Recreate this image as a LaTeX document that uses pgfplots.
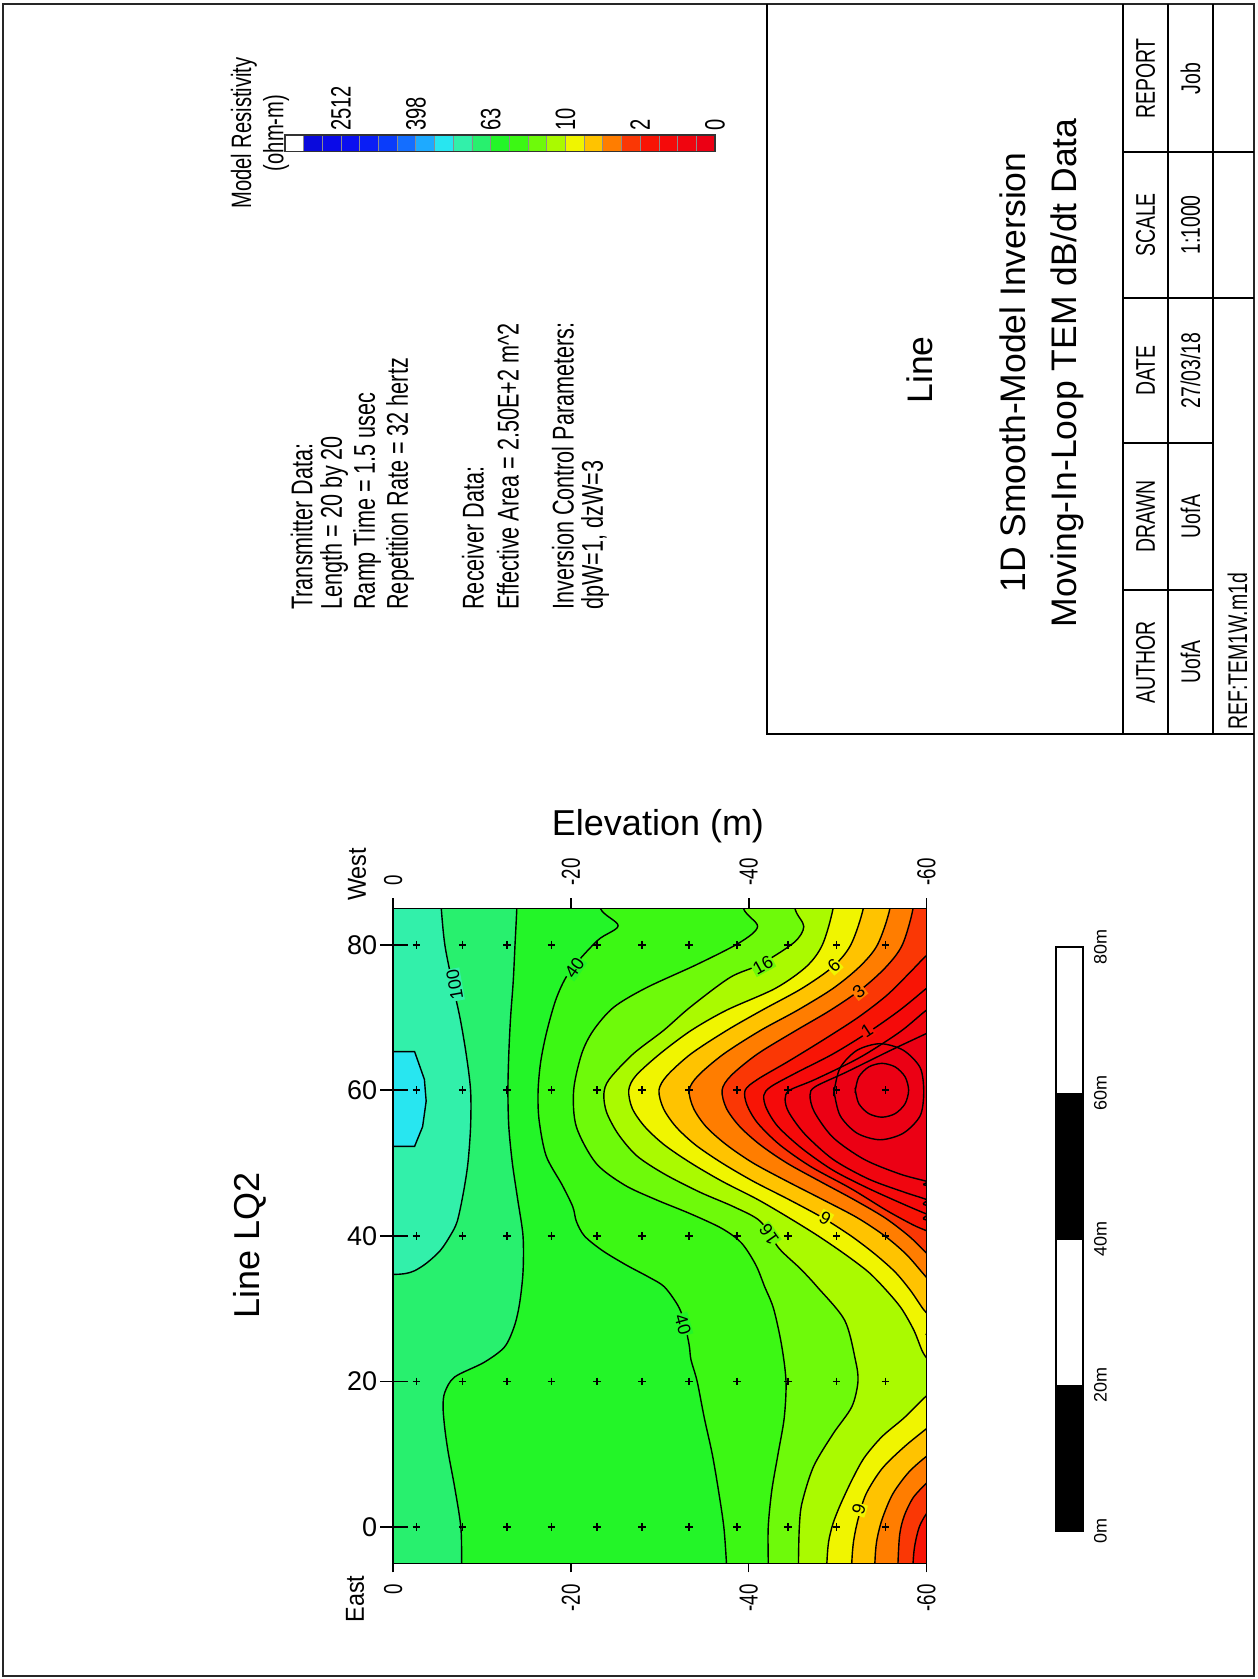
\documentclass[border=0pt]{standalone}
\usepackage{fontspec}
\setmainfont{Liberation Sans}
\newfontfamily\condA[FakeStretch=0.72]{Liberation Sans}
\newfontfamily\condB[FakeStretch=0.9]{Liberation Sans}
\usepackage{pgfplots}
\pgfplotsset{compat=1.18}
\definecolor{c0}{RGB}{10,10,220}
\definecolor{c1}{RGB}{10,10,232}
\definecolor{c2}{RGB}{10,15,240}
\definecolor{c3}{RGB}{10,30,245}
\definecolor{c4}{RGB}{10,60,250}
\definecolor{c5}{RGB}{20,110,255}
\definecolor{c6}{RGB}{30,170,255}
\definecolor{c7}{RGB}{40,230,240}
\definecolor{c8}{RGB}{50,240,170}
\definecolor{c9}{RGB}{40,240,110}
\definecolor{c10}{RGB}{35,245,40}
\definecolor{c11}{RGB}{60,248,20}
\definecolor{c12}{RGB}{110,250,10}
\definecolor{c13}{RGB}{170,250,0}
\definecolor{c14}{RGB}{240,245,0}
\definecolor{c15}{RGB}{255,195,0}
\definecolor{c16}{RGB}{255,125,0}
\definecolor{c17}{RGB}{250,55,5}
\definecolor{c18}{RGB}{248,20,5}
\definecolor{c19}{RGB}{245,10,10}
\definecolor{c20}{RGB}{240,5,15}
\definecolor{c21}{RGB}{235,0,20}
\pgfplotsset{
  geo/.style={at={(196.65pt,-781.65pt)}, anchor=south west, width=266.55pt, height=327.5pt,
    scale only axis, xmin=-60, xmax=0, ymin=-5, ymax=85, x dir=reverse,
    axis line style={line width=0.8pt}},
  cont/.style={smooth, draw=black, line width=0.7pt},
  cell/.style={draw=black!45, line width=0.4pt},
}
\tikzset{
  tb/.style={rotate=90, anchor=west, font=\condA\fontsize{15}{16}\selectfont, inner sep=0pt},
  cl/.style={rotate=90, font=\condA\fontsize{13.5}{14}\selectfont, inner sep=0pt},
  big/.style={rotate=90, font=\fontsize{17.75}{20}\selectfont, inner sep=0pt},
  lab/.style={font=\fontsize{9}{9}\selectfont, inner sep=0.6pt},
}
\begin{document}
\begin{tikzpicture}[x=0.5pt,y=-0.5pt]
\useasboundingbox (0,0) rectangle (1257,1679);
% page frame and title block
\draw[line width=1.3pt, black!85] (3,4) rectangle (1254,1676);
\draw[line width=1.1pt] (767,4) -- (767,734) -- (1254,734);
\draw[line width=0.9pt] (1123,4)--(1123,734) (1168,4)--(1168,734) (1213,4)--(1213,734)
  (1123,152)--(1254,152) (1123,298)--(1254,298) (1123,443)--(1213,443) (1123,590)--(1213,590);
\node[cl] at (1145.5,78.5) {REPORT};
\node[cl] at (1190.5,78.5) {Job};
\node[cl] at (1145.5,225) {SCALE};
\node[cl] at (1190.5,225) {1:1000};
\node[cl] at (1145.5,370.5) {DATE};
\node[cl] at (1190.5,370.5) {27/03/18};
\node[cl] at (1145.5,516.5) {DRAWN};
\node[cl] at (1190.5,516.5) {UofA};
\node[cl] at (1145.5,662) {AUTHOR};
\node[cl] at (1190.5,662) {UofA};
\node[cl, anchor=west] at (1237.5,730) {REF:TEM1W.m1d};
\node[big] at (920,370) {Line};
\node[big] at (1013,372.5) {1D Smooth-Model Inversion};
\node[big] at (1067,373) {Moving-In-Loop TEM dB/dt Data};
% info text
\node[tb] at (301.7,610) {Transmitter Data:};
\node[tb] at (334,610) {Length = 20 by 20};
\node[tb] at (367,610) {Ramp Time = 1.5 usec};
\node[tb] at (400,610) {Repetition Rate = 32 hertz};
\node[tb] at (473,610) {Receiver Data:};
\node[tb] at (508,610) {Effective Area = 2.50E+2 m\textasciicircum 2};
\node[tb] at (563,610) {Inversion Control Parameters:};
\node[tb] at (595,610) {dpW=1, dzW=3};
% colour bar title
\node[rotate=90, font=\condA\fontsize{14}{15}\selectfont, inner sep=0pt] at (244,133) {Model Resistivity};
\node[rotate=90, font=\condA\fontsize{14}{15}\selectfont, inner sep=0pt] at (276,133) {(ohm-m)};
% section labels
\node[rotate=90, font=\fontsize{18}{20}\selectfont, inner sep=0pt] at (250,1245) {Line LQ2};
\node[font=\fontsize{18}{20}\selectfont, inner sep=0pt] at (658,826) {Elevation (m)};
\node[rotate=90, font=\condB\fontsize{13}{13}\selectfont, inner sep=0pt] at (357,874.5) {West};
\node[rotate=90, font=\condB\fontsize{13}{13}\selectfont, inner sep=0pt] at (355,1599) {East};

\begin{scope}[x=1pt,y=1pt]
% colour bar
\begin{axis}[at={(142.5pt,-75.85pt)}, anchor=south west, width=215pt, height=8.35pt,
  scale only axis, xmin=0, xmax=23, ymin=0, ymax=1, axis on top,
  axis line style={black!80, line width=0.6pt}, ytick=\empty,
  xtick={3,7,11,15,19,23}, xticklabels={2512,398,63,10,2,0},
  xtick pos=right, xticklabel pos=right, major tick length=0pt,
  xticklabel style={rotate=90, anchor=west, font=\condA\fontsize{14}{14}\selectfont},
  xticklabel shift=-1.5pt]
\addplot[cell, fill=white] coordinates {(0,0) (1,0) (1,1) (0,1) (0,0)};
\addplot[cell, fill=c0] coordinates {(1,0) (2,0) (2,1) (1,1) (1,0)};
\addplot[cell, fill=c1] coordinates {(2,0) (3,0) (3,1) (2,1) (2,0)};
\addplot[cell, fill=c2] coordinates {(3,0) (4,0) (4,1) (3,1) (3,0)};
\addplot[cell, fill=c3] coordinates {(4,0) (5,0) (5,1) (4,1) (4,0)};
\addplot[cell, fill=c4] coordinates {(5,0) (6,0) (6,1) (5,1) (5,0)};
\addplot[cell, fill=c5] coordinates {(6,0) (7,0) (7,1) (6,1) (6,0)};
\addplot[cell, fill=c6] coordinates {(7,0) (8,0) (8,1) (7,1) (7,0)};
\addplot[cell, fill=c7] coordinates {(8,0) (9,0) (9,1) (8,1) (8,0)};
\addplot[cell, fill=c8] coordinates {(9,0) (10,0) (10,1) (9,1) (9,0)};
\addplot[cell, fill=c9] coordinates {(10,0) (11,0) (11,1) (10,1) (10,0)};
\addplot[cell, fill=c10] coordinates {(11,0) (12,0) (12,1) (11,1) (11,0)};
\addplot[cell, fill=c11] coordinates {(12,0) (13,0) (13,1) (12,1) (12,0)};
\addplot[cell, fill=c12] coordinates {(13,0) (14,0) (14,1) (13,1) (13,0)};
\addplot[cell, fill=c13] coordinates {(14,0) (15,0) (15,1) (14,1) (14,0)};
\addplot[cell, fill=c14] coordinates {(15,0) (16,0) (16,1) (15,1) (15,0)};
\addplot[cell, fill=c15] coordinates {(16,0) (17,0) (17,1) (16,1) (16,0)};
\addplot[cell, fill=c16] coordinates {(17,0) (18,0) (18,1) (17,1) (17,0)};
\addplot[cell, fill=c17] coordinates {(18,0) (19,0) (19,1) (18,1) (18,0)};
\addplot[cell, fill=c18] coordinates {(19,0) (20,0) (20,1) (19,1) (19,0)};
\addplot[cell, fill=c19] coordinates {(20,0) (21,0) (21,1) (20,1) (20,0)};
\addplot[cell, fill=c20] coordinates {(21,0) (22,0) (22,1) (21,1) (21,0)};
\addplot[cell, fill=c21] coordinates {(22,0) (23,0) (23,1) (22,1) (22,0)};
\end{axis}

% scale bar
\begin{axis}[at={(528pt,-765.5pt)}, anchor=south west, width=13.5pt, height=292pt,
  scale only axis, xmin=0, xmax=1, ymin=0, ymax=80, axis on top,
  axis line style={black, line width=0.8pt}, xtick=\empty,
  ytick={0,20,40,60,80}, yticklabels={0m,20m,40m,60m,80m},
  ytick pos=right, yticklabel pos=right, major tick length=0pt,
  yticklabel style={rotate=90, anchor=north, font=\fontsize{9}{9}\selectfont},
  yticklabel shift=2pt]
\addplot[fill=black, draw=black] coordinates {(0,0) (1,0) (1,20) (0,20) (0,0)};
\addplot[fill=black, draw=black] coordinates {(0,40) (1,40) (1,60) (0,60) (0,40)};
\end{axis}

% main section
\begin{axis}[geo, axis on top, axis background/.style={fill=c9},
  xtick={0,-20,-40,-60}, xticklabels={0,-20,-40,-60}, xtick pos=left, xticklabel pos=left,
  ytick={0,20,40,60,80}, yticklabels={0,20,40,60,80}, ytick pos=left,
  tick align=outside, major tick length=6.5pt,
  tick style={black, line width=0.8pt},
  xtick style={/pgfplots/major tick length=4.5pt},
  xticklabel style={font=\condA\fontsize{13}{13}\selectfont, rotate=90, anchor=east},
  yticklabel style={font=\fontsize{13.5}{14}\selectfont},
  xticklabel shift=0.5pt, yticklabel shift=-2pt]
% rho 100-158 near surface
\addplot[cont, fill=c8] coordinates {(-5.1,95) (-5.2,90) (-5.4,85) (-5.8,80) (-6.6,75) (-7.5,70) (-8.2,65) (-8.7,60) (-8.7,55) (-8.4,50) (-7.9,46) (-7.2,42) (-6.4,40) (-5.3,38) (-3.8,36.3) (-2.4,35.2) (-1.3,34.8) (0,34.7) (3,34.7) (6,34.7) (10,34.7) (10,100)};
% rho 158-251 patch
\addplot[sharp plot, draw=black, line width=0.7pt, fill=c7] coordinates {(3,65.3) (-2.4,65.3) (-3.5,61.5) (-3.7,58.5) (-3.3,55) (-2.4,52.3) (3,52.3)};
% 63
\addplot[cont, fill=c10] coordinates {(-14.0,95) (-14.0,90) (-13.9,85) (-13.7,80) (-13.5,75) (-13.2,70) (-13.0,65) (-12.9,60) (-13.0,55) (-13.4,50) (-14.0,45) (-14.6,40) (-14.6,35) (-14.2,30.6) (-13.6,27.5) (-12.5,24.7) (-10.2,22.6) (-6.9,20.6) (-5.8,18.5) (-5.6,16.5) (-5.8,13.5) (-6.2,10.1) (-6.9,5.5) (-7.6,0) (-7.7,-5) (-7.8,-10) (-7.9,-15) (-90,-15) (-90,95)};
% 40
\addplot[cont, fill=c11] coordinates {(-22.3,95) (-22.7,90) (-23.3,85) (-25.3,82.6) (-23.0,80.6) (-19.9,76.4) (-18.4,72.8) (-17.3,68.2) (-16.6,64) (-16.3,60) (-16.4,56) (-17.2,51) (-19.0,47) (-20.2,44) (-20.6,42) (-21.5,40) (-23.5,38) (-26.2,36) (-28.8,34.3) (-30.5,33) (-32.0,30.5) (-32.7,28.4) (-33.3,25) (-33.5,23) (-34.2,20) (-35.0,15) (-35.9,10) (-36.6,5) (-37.2,0) (-37.5,-5) (-37.7,-10) (-37.9,-15) (-90,-15) (-90,95)};
% 25
\addplot[cont, fill=c12] coordinates {(-38.3,95) (-38.8,90) (-39.4,85) (-41.0,82.5) (-39.0,80.3) (-34.2,77.3) (-28.5,74.1) (-24.8,71.4) (-22.5,68.2) (-21.2,65) (-20.3,60) (-20.6,55) (-22.8,50) (-26.0,47) (-29.5,45) (-33.5,43) (-37.0,41) (-39.2,39) (-40.8,36) (-41.8,33) (-42.8,30) (-43.7,25) (-44.2,20) (-44.0,15) (-43.3,10) (-42.6,5) (-42.2,0) (-42.2,-5) (-42.2,-10) (-42.2,-15) (-90,-15) (-90,95)};
% 16
\addplot[cont, fill=c13] coordinates {(-44.3,95) (-44.8,90) (-45.2,85) (-46.2,82.5) (-45.1,80.3) (-41.3,77.3) (-37.9,75.5) (-33.4,71.4) (-30.4,68.2) (-27.0,65) (-24.3,61.5) (-23.7,59.5) (-24.0,57) (-25.3,54) (-27.4,51) (-30.5,48.5) (-34.5,46) (-38.3,44) (-41.3,42) (-43.4,38.3) (-45.8,35.5) (-47.7,33) (-50.8,28.4) (-52.0,23) (-52.3,20) (-51.6,16.5) (-49.5,12.8) (-47.3,8.3) (-46.0,3.3) (-45.7,0) (-45.6,-5) (-45.6,-10) (-45.6,-15) (-90,-15) (-90,95)};
% 10
\addplot[cont, fill=c14] coordinates {(-50.2,95) (-49.9,90) (-49.5,85) (-48.3,80) (-46.5,77) (-43.0,74) (-37.5,71) (-33.5,68.2) (-30.0,65) (-27.3,62) (-26.5,60) (-26.9,57.5) (-28.3,55) (-30.5,52.5) (-33.5,50) (-37.0,47.5) (-41.0,45) (-44.5,42.5) (-47.8,40) (-50.8,37.5) (-53.5,35) (-55.5,32.5) (-57.2,30) (-58.6,27) (-59.6,24) (-60.5,22.5) (-61.5,21) (-62.5,19.5) (-90,19.5) (-90,95)};
\addplot[cont, fill=c14] coordinates {(-64,21.5) (-62,20) (-60,18) (-57.5,15) (-55,12.4) (-53,9.5) (-51.6,6.4) (-50.3,3) (-49.5,0.5) (-49.0,-2) (-48.8,-5) (-48.7,-10) (-48.6,-15) (-90,-15) (-90,21.5)};
% 6.3
\addplot[cont, fill=c15] coordinates {(-53.6,95) (-53.3,90) (-52.9,85) (-51.5,80) (-49.5,77) (-46.0,74) (-41.5,71) (-37.5,68.2) (-33.5,65) (-30.8,62) (-29.9,60) (-30.4,57.5) (-31.8,55) (-34.0,52.5) (-37.0,50) (-40.5,47.5) (-44.5,45) (-48.3,42.5) (-51.5,40) (-54.2,37.5) (-56.5,35) (-58.2,32.5) (-59.6,30) (-60.3,29) (-61.0,27.5) (-62.0,26) (-90,26) (-90,95)};
\addplot[cont, fill=c15] coordinates {(-64,17) (-62,15.5) (-60,13.5) (-57.5,11) (-55,8) (-53.2,4.5) (-52.3,1) (-51.8,-2) (-51.6,-5) (-51.5,-10) (-51.5,-15) (-90,-15) (-90,17)};
% 4
\addplot[cont, fill=c16] coordinates {(-56.5,95) (-56.2,90) (-55.9,85) (-54.5,80) (-52.5,77) (-49.5,74) (-45.5,71) (-41.3,68.2) (-37.2,65) (-34.3,62) (-33.3,60) (-33.8,57.5) (-35.2,55) (-37.5,52.5) (-40.5,50) (-44.3,47.5) (-48.3,45) (-52.2,42.5) (-55.3,40) (-57.7,37.5) (-59.5,35) (-60.2,34) (-61.2,32.5) (-62.2,31) (-90,31) (-90,95)};
\addplot[cont, fill=c16] coordinates {(-63,12) (-61.5,11) (-60,9.7) (-58,7.5) (-56.2,4.5) (-55,1) (-54.4,-2) (-54.2,-5) (-54.1,-10) (-54.1,-15) (-90,-15) (-90,12)};
% 2.5
\addplot[cont, fill=c17] coordinates {(-59.0,95) (-58.8,90) (-58.5,85) (-57.3,80) (-55.5,77) (-52.8,74) (-49.2,71) (-45.3,68.2) (-41.0,65) (-38.0,62) (-37.0,60) (-37.5,57.5) (-39.0,55) (-41.3,52.5) (-44.3,50) (-48.0,47.5) (-51.8,45) (-55.3,42.5) (-58.0,40) (-59.7,38) (-60.5,37) (-61.6,35.5) (-62.6,34) (-90,34) (-90,95)};
\addplot[cont, fill=c17] coordinates {(-62,8) (-61,7) (-60,6) (-58.5,4) (-57.5,1.5) (-57.0,-1) (-56.8,-5) (-56.7,-10) (-56.7,-15) (-90,-15) (-90,8)};
% 1.6
\addplot[cont, fill=c18] coordinates {(-63,81) (-61.5,79.8) (-60,78.5) (-58,76) (-55.5,73) (-52.3,70) (-48.5,67) (-44.5,64) (-41.0,61.5) (-39.6,60) (-39.8,58) (-41.0,55.5) (-43.5,52.5) (-47.0,49.5) (-51.5,46.5) (-55.5,43.5) (-58.5,41.5) (-60,40.7) (-61.5,39.8) (-63,39) (-90,39) (-90,81)};
\addplot[cont, fill=c18] coordinates {(-62,4.5) (-61,3) (-60,1.8) (-59.2,0) (-58.7,-2.5) (-58.5,-5) (-58.4,-10) (-90,-10) (-90,4.5)};
% 1
\addplot[cont, fill=c19] coordinates {(-62,76) (-60,74) (-57,71) (-53.5,68) (-49.5,65) (-45.5,62.5) (-42.5,60.5) (-41.7,59.3) (-42.0,57.5) (-43.3,55) (-46.0,52) (-49.5,49) (-53.5,46.5) (-57.5,44.3) (-60,43) (-62,42) (-90,42) (-90,76)};
% 0.63
\addplot[cont, fill=c20] coordinates {(-62,72.5) (-60,71) (-57,68) (-52.5,64.5) (-47.5,61.5) (-44.6,60) (-44.1,58.8) (-44.5,57) (-46.3,54) (-49.5,50.5) (-53.5,47.8) (-57.5,46) (-60,45) (-62,44) (-90,44) (-90,72.5)};
% 0.4
\addplot[cont, fill=c21] coordinates {(-62,69) (-60,67.8) (-56,65.5) (-51,62.5) (-47.5,60.5) (-46.9,59.3) (-47.4,57) (-49.5,53.5) (-53,50.5) (-57,48.5) (-60,47.5) (-62,46.8) (-90,46.8) (-90,69)};
% inner rings
\addplot[cont] coordinates {(-49.62,59.22) (-49.6,59.8) (-50.3,63.1) (-52.2,65.5) (-54.8,66.4) (-57.4,65.5) (-59.3,63.1) (-59.7,59.8) (-59.3,56.5) (-57.4,54.1) (-54.8,53.2) (-52.2,54.1) (-50.3,56.5) (-49.6,59.8) (-49.62,60.38)};
\addplot[cont] coordinates {(-52.01,59.68) (-52.0,60) (-52.4,61.85) (-53.5,63.2) (-55,63.7) (-56.5,63.2) (-57.6,61.85) (-58,60) (-57.6,58.15) (-56.5,56.8) (-55,56.3) (-53.5,56.8) (-52.4,58.15) (-52.0,60) (-52.01,60.32)};
% contour labels
\node[lab, fill=c8, rotate=100] at (axis cs:-6.9,74.5) {100};
\node[lab, fill=c10, rotate=55] at (axis cs:-20.4,76.8) {40};
\node[lab, fill=c12, rotate=29] at (axis cs:-41.6,77.2) {16};
\node[lab, fill=c14, rotate=42] at (axis cs:-49.6,77.1) {6};
\node[lab, fill=c16, rotate=38] at (axis cs:-52.4,73.6) {3};
\node[lab, fill=c18, rotate=33] at (axis cs:-53.3,68.2) {1};
\node[lab, fill=c12, rotate=125] at (axis cs:-42.3,40.2) {16};
\node[lab, fill=c14, rotate=150] at (axis cs:-48.6,42.4) {6};
\node[lab, fill=c10, rotate=-74] at (axis cs:-32.6,27.8) {40};
\node[lab, fill=c14, rotate=-107] at (axis cs:-52.4,2.4) {6};
% model layer centres
\addplot[only marks, mark=+, mark size=1.9pt, black, mark options={line width=0.8pt}] table {
x y
-2.6 0
-7.8 0
-12.8 0
-17.8 0
-22.9 0
-28.0 0
-33.3 0
-38.7 0
-44.4 0
-49.9 0
-55.4 0
-2.6 20
-7.8 20
-12.8 20
-17.8 20
-22.9 20
-28.0 20
-33.3 20
-38.7 20
-44.4 20
-49.9 20
-55.4 20
-2.6 40
-7.8 40
-12.8 40
-17.8 40
-22.9 40
-28.0 40
-33.3 40
-38.7 40
-44.4 40
-49.9 40
-55.4 40
-2.6 60
-7.8 60
-12.8 60
-17.8 60
-22.9 60
-28.0 60
-33.3 60
-38.7 60
-44.4 60
-49.9 60
-55.4 60
-2.6 80
-7.8 80
-12.8 80
-17.8 80
-22.9 80
-28.0 80
-33.3 80
-38.7 80
-44.4 80
-49.9 80
-55.4 80
};
\end{axis}

% top tick labels
\begin{axis}[geo, xtick={0,-20,-40,-60}, xticklabels={0,-20,-40,-60},
  xtick pos=right, xticklabel pos=right, ytick=\empty,
  tick align=outside, major tick length=5pt, tick style={black, line width=0.8pt},
  xticklabel style={font=\condA\fontsize{13}{13}\selectfont, rotate=90, anchor=west},
  xticklabel shift=3pt]
\end{axis}
% inner part of station ticks
\begin{axis}[geo, xtick=\empty, ytick={0,20,40,60,80}, yticklabels={}, ytick pos=left,
  tick align=inside, major tick length=7.5pt, tick style={black, line width=0.8pt}]
\end{axis}
\end{scope}
\end{tikzpicture}
\end{document}
